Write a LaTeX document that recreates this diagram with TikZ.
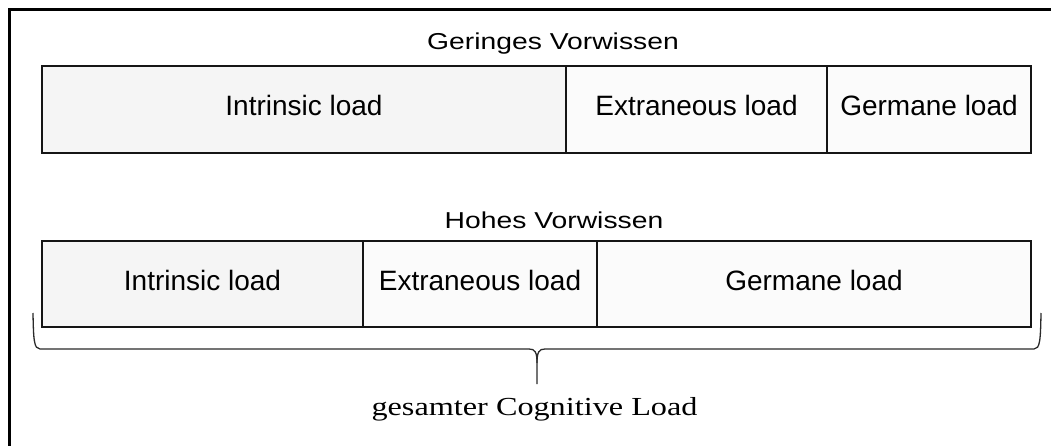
\documentclass[tikz,border=0pt]{standalone}
\usepackage{fontspec}
\usepackage{graphicx}
\newfontfamily\labelsans{Liberation Sans}
\newfontfamily\labelserif{Liberation Serif}
\definecolor{cellA}{HTML}{F5F5F5}
\definecolor{cellB}{HTML}{FBFBFB}
\definecolor{edge}{HTML}{151515}
\definecolor{bracecol}{HTML}{2A2A2A}
\begin{document}
\begin{tikzpicture}[x=1pt,y=-1pt,
  cell/.style={draw=edge, line width=2.2pt, inner sep=0pt, anchor=center,
    font=\labelsans\fontsize{28}{32}\selectfont,
    text height=20pt, text depth=8pt},
  title/.style={anchor=base, inner sep=0pt, font=\labelsans\fontsize{23}{28}\selectfont},
  total/.style={anchor=base, inner sep=0pt, font=\labelserif\fontsize{26}{30}\selectfont}]
  \useasboundingbox (0,0) rectangle (1051,446);

  % outer frame (left and top edges)
  \draw[line width=2.7pt, black] (9.3,447) -- (9.3,9.3) -- (1052,9.3);

  % low prior knowledge
  \node[title] (tlow) at (553,49.3) {\scalebox{1.23}[1]{Geringes Vorwissen}};
  \node[cell, fill=cellA, minimum width=524pt, minimum height=87pt] (gi) at (304,109.5) {Intrinsic load};
  \node[cell, fill=cellB, minimum width=261pt, minimum height=87pt] (ge) at (696.5,109.5) {Extraneous load};
  \node[cell, fill=cellB, minimum width=204pt, minimum height=87pt] (gg) at (929,109.5) {Germane load};

  % high prior knowledge
  \node[title] (thigh) at (554,228.3) {\scalebox{1.23}[1]{Hohes Vorwissen}};
  \node[cell, fill=cellA, minimum width=321pt, minimum height=86pt] (hi) at (202.5,284) {Intrinsic load};
  \node[cell, fill=cellB, minimum width=234pt, minimum height=86pt] (he) at (480,284) {Extraneous load};
  \node[cell, fill=cellB, minimum width=434pt, minimum height=86pt] (hg) at (814,284) {Germane load};

  % curly brace under the lower row
  \draw[bracecol, line width=1.3pt]
    (33,313) .. controls (33.5,340) and (34,349) .. (40,349)
    -- (529,349) .. controls (535,349) and (537,352) .. (537,363)
    -- (537,384);
  \draw[bracecol, line width=1.3pt]
    (537,363) .. controls (537,352) and (539,349) .. (545,349)
    -- (1034,349) .. controls (1040,349) and (1040.5,340) .. (1041,313);

  \node[total] (sum) at (534.5,415) {\scalebox{1.24}[1]{gesamter Cognitive Load}};
\end{tikzpicture}
\end{document}
